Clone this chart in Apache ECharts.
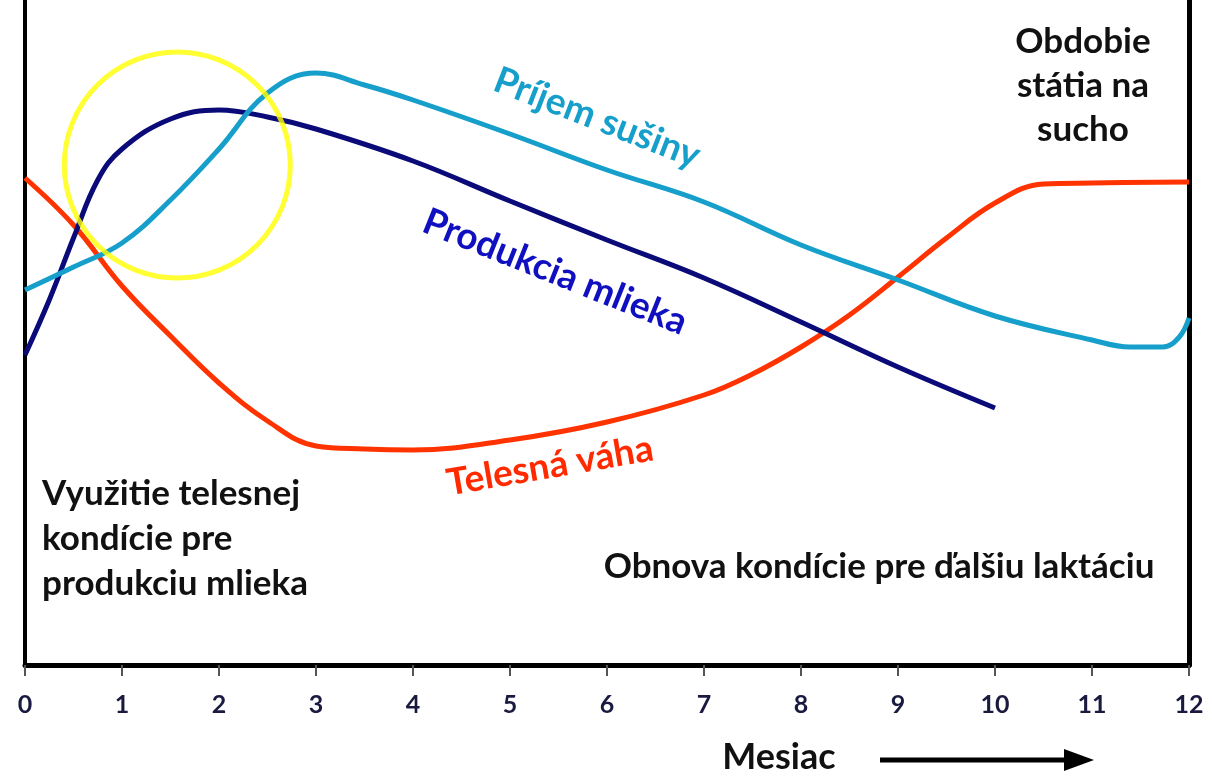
<!DOCTYPE html>
<html>
<head>
<meta charset="utf-8">
<title>Laktácia</title>
<script src="https://cdn.jsdelivr.net/npm/echarts@6/dist/echarts.min.js"></script>
<style>
  html, body { margin: 0; padding: 0; background: #fff; }
  #chart { width: 1212px; height: 777px; }
</style>
</head>
<body>
<div id="chart"></div>
<script>
// mesiace na osi x
var months = [0, 1, 2, 3, 4, 5, 6, 7, 8, 9, 10, 11, 12];

// relatívna úroveň (0 = os x), odčítané z obrázka
var prijemSusinyX = [0, 0.5, 1, 1.5, 2, 2.5, 3, 3.5, 4, 5, 6, 7, 8, 9, 10, 11, 11.39, 11.73, 11.9, 12];
var prijemSusinyY = [375, 398, 422, 465, 516, 572, 592, 580, 565, 531, 495, 463, 420, 385, 349, 325, 318, 318, 328, 347];

var produkciaX = [0, 0.25, 0.5, 0.75, 1, 1.5, 2, 2.5, 3, 4, 5, 6, 7, 8, 9, 10];
var produkciaY = [310, 365, 427, 485, 516, 546, 555, 548, 536, 504, 464, 425, 387, 343, 298, 257];

var telesnaVahaX = [0, 0.5, 1, 1.5, 2, 2.5, 3, 3.5, 4, 5, 6, 7, 7.5, 8, 8.5, 9, 9.5, 10, 10.5, 11, 12];
var telesnaVahaY = [487, 440, 379, 329, 282, 244, 219, 216, 215, 225, 243, 270, 291, 318, 350, 388, 427, 462, 481, 482, 483];

// zvýraznenie (žltý kruh)
var kruhX = [1.57];
var kruhY = [500];

function pairs(xs, ys) {
    return xs.map(function (x, i) { return [x, ys[i]]; });
}

var font = 'Lato, "Open Sans", sans-serif';

var chart = echarts.init(document.getElementById('chart'));
chart.setOption({
    animation: false,
    backgroundColor: '#fff',
    grid: { left: 25, right: 23, top: 0, bottom: 112 },
    xAxis: {
        type: 'value',
        min: 0,
        max: 12,
        interval: 1,
        axisLine: { show: true, onZero: false, lineStyle: { color: '#000', width: 5 } },
        axisTick: { show: true, inside: false, length: 11, lineStyle: { color: '#555', width: 2 } },
        axisLabel: {
            margin: 27,
            fontSize: 25,
            fontWeight: 'bold',
            fontFamily: font,
            color: '#1a1a40',
            formatter: function (v) { return months.indexOf(v) >= 0 ? String(v) : ''; }
        },
        splitLine: { show: false }
    },
    yAxis: [{
        type: 'value',
        min: 0,
        max: 665,
        position: 'left',
        axisLine: { show: true, lineStyle: { color: '#000', width: 4 } },
        axisTick: { show: false },
        axisLabel: { show: false },
        splitLine: { show: false }
    }, {
        type: 'value',
        min: 0,
        max: 665,
        position: 'right',
        axisLine: { show: true, lineStyle: { color: '#000', width: 5 } },
        axisTick: { show: false },
        axisLabel: { show: false },
        splitLine: { show: false }
    }],
    series: [
        {
            name: 'Telesná váha',
            type: 'line',
            data: pairs(telesnaVahaX, telesnaVahaY),
            smooth: 0.4,
            showSymbol: false,
            lineStyle: { color: '#ff3300', width: 5 }
        },
        {
            name: 'Produkcia mlieka',
            type: 'line',
            data: pairs(produkciaX, produkciaY),
            smooth: 0.4,
            showSymbol: false,
            lineStyle: { color: '#0a0a78', width: 5 }
        },
        {
            name: 'Príjem sušiny',
            type: 'line',
            data: pairs(prijemSusinyX, prijemSusinyY),
            smooth: 0.4,
            showSymbol: false,
            lineStyle: { color: '#169fca', width: 5 }
        },
        {
            name: 'kruh',
            type: 'scatter',
            data: pairs(kruhX, kruhY),
            symbol: 'circle',
            symbolSize: 226,
            itemStyle: { color: 'rgba(0,0,0,0)', borderColor: '#ffff00', borderWidth: 5 },
            z: 5
        }
    ],
    graphic: [
        {
            type: 'text', x: 597, y: 118, rotation: -0.37,
            style: { text: 'Príjem sušiny', fill: '#169fca', font: 'bold 37px ' + font, align: 'center', verticalAlign: 'middle' }
        },
        {
            type: 'text', x: 555, y: 272, rotation: -0.38,
            style: { text: 'Produkcia mlieka', fill: '#1010c0', font: 'bold 37px ' + font, align: 'center', verticalAlign: 'middle' }
        },
        {
            type: 'text', x: 550, y: 466, rotation: 0.17,
            style: { text: 'Telesná váha', fill: '#ff2a00', font: 'bold 37px ' + font, align: 'center', verticalAlign: 'middle' }
        },
        {
            type: 'text', x: 42, y: 471,
            style: { text: 'Využitie telesnej\nkondície pre\nprodukciu mlieka', fill: '#111', font: 'bold 35px ' + font, lineHeight: 45, align: 'left', verticalAlign: 'top' }
        },
        {
            type: 'text', x: 879, y: 567,
            style: { text: 'Obnova kondície pre ďalšiu laktáciu', fill: '#111', font: 'bold 35px ' + font, align: 'center', verticalAlign: 'middle' }
        },
        {
            type: 'text', x: 1083, y: 20,
            style: { text: 'Obdobie\nstátia na\nsucho', fill: '#111', font: 'bold 35px ' + font, lineHeight: 44, align: 'center', verticalAlign: 'top' }
        },
        {
            type: 'text', x: 779, y: 757,
            style: { text: 'Mesiac', fill: '#111', font: 'bold 36px ' + font, align: 'center', verticalAlign: 'middle' }
        },
        {
            type: 'line',
            shape: { x1: 880, y1: 760, x2: 1070, y2: 760 },
            style: { stroke: '#000', lineWidth: 5 }
        },
        {
            type: 'polygon',
            shape: { points: [[1064, 749], [1094, 760], [1064, 771]] },
            style: { fill: '#000' }
        }
    ]
});
</script>
</body>
</html>
